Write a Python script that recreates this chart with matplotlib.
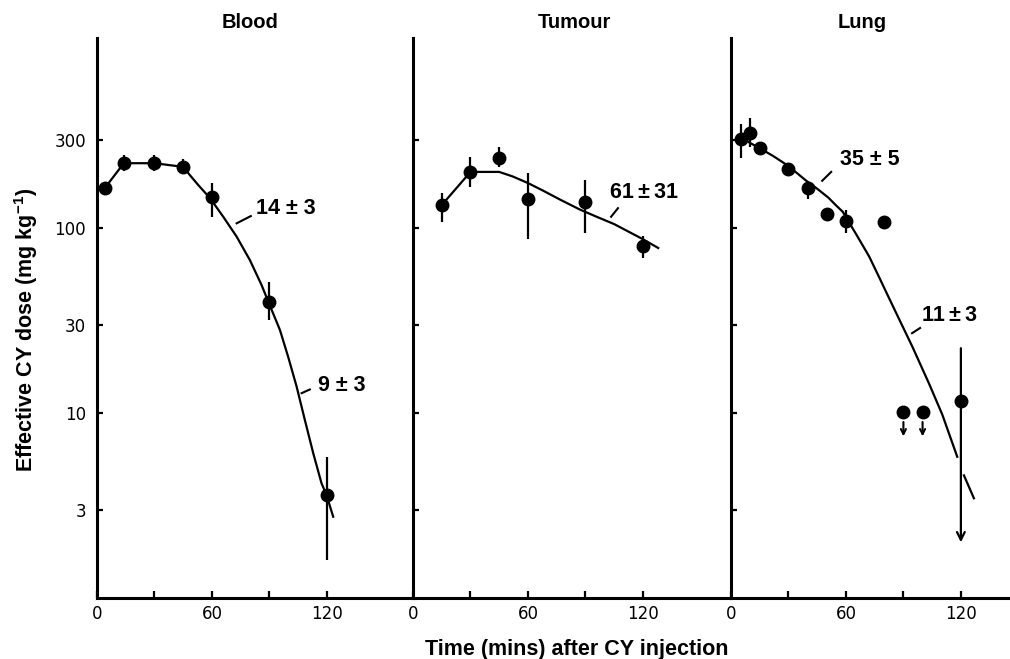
import matplotlib
matplotlib.use("Agg")
import matplotlib.pyplot as plt
from matplotlib.ticker import NullLocator

plt.rcParams['font.family'] = ['Liberation Sans', 'DejaVu Sans']
plt.rcParams['mathtext.default'] = 'regular'

# ---- data (time in min, dose in mg/kg) ----
blood_t = [4, 14, 30, 45, 60, 90, 120]
blood_v = [164, 224, 224, 214, 147, 40, 3.6]
blood_lo = [164, 203, 203, 195, 115, 31.8, 1.6]
blood_hi = [164, 247, 247, 235, 175, 51, 5.8]
blood_curve_t = [4, 14, 30, 45, 48.5, 53, 59, 65.9, 72.9, 79.8, 85.9, 89.4, 95.5,
                 99.8, 104.2, 108.5, 112.9, 117.2, 119.8, 123.3]
blood_curve_v = [164, 224, 224, 214, 193, 170, 145, 115, 89.8, 67.1, 49.2, 40.0, 28.1,
                 20.1, 13.9, 9.17, 6.05, 4.17, 3.6, 2.75]

tum_t = [15, 30, 45, 60, 90, 120]
tum_v = [133, 201, 239, 143, 138, 80]
tum_lo = [108, 166, 214, 87, 94, 69]
tum_hi = [155, 242, 274, 198, 182, 90]
tum_curve_t = [15, 30, 45, 52, 60, 68, 77, 87, 95, 105, 120, 128]
tum_curve_v = [133, 201, 201, 190, 175, 159, 142, 126, 116, 105, 87, 78]

lung_t = [5, 10, 15, 30, 40, 50, 60, 80]
lung_v = [303, 326, 271, 208, 164, 119, 109, 108]
lung_lo = [239, 274, 258, 195, 143, 112, 94, 100]
lung_hi = [365, 393, 287, 222, 175, 128, 125, 116]
lung_ul_t = [90, 100]          # upper limits (arrow down)
lung_ul_v = [10.1, 10.1]
lung_last_t = 120              # point with open-ended error bar
lung_last_v = 11.6
lung_last_hi = 22.4
lung_last_lo = 2.0
lung_curve_t = [5, 10, 15, 22, 29.8, 39.3, 45, 50.8, 55, 58.3, 60.9, 66.1, 72.2, 77.4,
                81.7, 87.8, 94.7, 103.4, 110.3, 118.1]
lung_curve_v = [310, 288, 270, 245, 217, 180, 163, 146, 132, 122.5, 110.5, 89.7, 69.9, 54,
                43.5, 32.1, 22.8, 14.4, 9.8, 5.8]
lung_tail_t = [121.6, 126.8]
lung_tail_v = [4.6, 3.46]

# half-life labels: text, position, leader line (t0, v0, t1, v1)
blood_labels = ["14 ± 3", "9 ± 3"]
blood_label_pos = [(98.6, 128), (127.8, 14)]
blood_leaders = [(72.9, 106, 80.3, 116), (106.8, 12.8, 111.1, 13.4)]
tum_labels = ["61\u2009±\u200931"]
tum_label_pos = [(120.8, 155)]
tum_leaders = [(103.4, 115, 107, 128)]
lung_labels = ["35 ± 5", "11\u2009±\u20093"]
lung_label_pos = [(72.5, 234), (114.3, 33.7)]
lung_leaders = [(47.6, 180, 52.3, 201), (94.5, 27, 98.7, 28.8)]

titles = ["Blood", "Tumour", "Lung"]
title_t = [80, 84.4, 68.6]

y_ticks = [3, 10, 30, 100, 300]
x_ticks = [0, 30, 60, 90, 120]
x_ticklabels = ["0", "", "60", "", "120"]

W, H = 1010, 659
fig = plt.figure(figsize=(W / 100, H / 100), dpi=100)

lefts = [97, 413, 731]
ax_w = 318
ax_bottom, ax_top = 598, 38
axes = []
for i, left in enumerate(lefts):
    ax = fig.add_axes([left / W, 1 - ax_bottom / H, ax_w / W, (ax_bottom - ax_top) / H])
    ax.set_yscale('log')
    ax.set_ylim(1, 10 ** (560 / 185))
    ax.set_xlim(0, 166)
    ax.patch.set_alpha(0)
    for s in ['top', 'right']:
        ax.spines[s].set_visible(False)
    for s in ['left', 'bottom']:
        ax.spines[s].set_linewidth(2.2)
    ax.yaxis.set_minor_locator(NullLocator())
    ax.set_yticks(y_ticks)
    if i == 0:
        ax.set_yticklabels([str(v) for v in y_ticks], fontfamily='DejaVu Sans', fontsize=12)
    else:
        ax.set_yticklabels([])
    ax.set_xticks(x_ticks, x_ticklabels, fontfamily='DejaVu Sans', fontsize=12)
    ax.tick_params(axis='y', direction='in', length=4.5, width=1.6, pad=8)
    ax.tick_params(axis='x', direction='in', length=5, width=1.6, pad=5)
    ax.text(title_t[i], 1.0277, titles[i], transform=ax.get_xaxis_transform(),
            ha='center', va='center', fontsize=14.5, fontweight='bold')
    axes.append(ax)

panels = [
    (axes[0], blood_t, blood_v, blood_lo, blood_hi, blood_curve_t, blood_curve_v,
     blood_labels, blood_label_pos, blood_leaders),
    (axes[1], tum_t, tum_v, tum_lo, tum_hi, tum_curve_t, tum_curve_v,
     tum_labels, tum_label_pos, tum_leaders),
    (axes[2], lung_t, lung_v, lung_lo, lung_hi, lung_curve_t, lung_curve_v,
     lung_labels, lung_label_pos, lung_leaders),
]

for ax, t, v, lo, hi, ct, cv, labs, lpos, leads in panels:
    ax.plot(ct, cv, color='black', lw=1.6, zorder=2, solid_joinstyle='round')
    ax.vlines(t, lo, hi, color='black', lw=1.6, zorder=2)
    ax.plot(t, v, 'o', ms=9, color='black', zorder=3)
    for txt, (tx, ty), (a0, b0, a1, b1) in zip(labs, lpos, leads):
        ax.text(tx, ty, txt, ha='center', va='center', fontsize=15.5, fontweight='bold')
        ax.plot([a0, a1], [b0, b1], color='black', lw=1.5)

lung = axes[2]
lung.plot(lung_tail_t, lung_tail_v, color='black', lw=1.6)
lung.plot(lung_ul_t, lung_ul_v, 'o', ms=9, color='black', zorder=3)
for t, v in zip(lung_ul_t, lung_ul_v):
    lung.annotate('', xy=(t, v * 0.74), xytext=(t, v * 0.885),
                  arrowprops=dict(arrowstyle='->', lw=1.5, mutation_scale=9,
                                  shrinkA=0, shrinkB=0, color='black'))
lung.plot([lung_last_t], [lung_last_v], 'o', ms=9, color='black', zorder=3)
lung.annotate('', xy=(lung_last_t, lung_last_lo), xytext=(lung_last_t, lung_last_hi),
              arrowprops=dict(arrowstyle='->', lw=1.6, mutation_scale=14,
                              shrinkA=0, shrinkB=0, color='black'))

fig.text(26 / W, 1 - 330 / H, "Effective CY dose (mg kg$^{-1}$)", rotation=90,
         ha='center', va='center', fontsize=15.5, fontweight='bold')
fig.text(577 / W, 1 - 655 / H, "Time (mins) after CY injection",
         ha='center', va='baseline', fontsize=15.5, fontweight='bold')

fig.savefig("out.png", dpi=100)
